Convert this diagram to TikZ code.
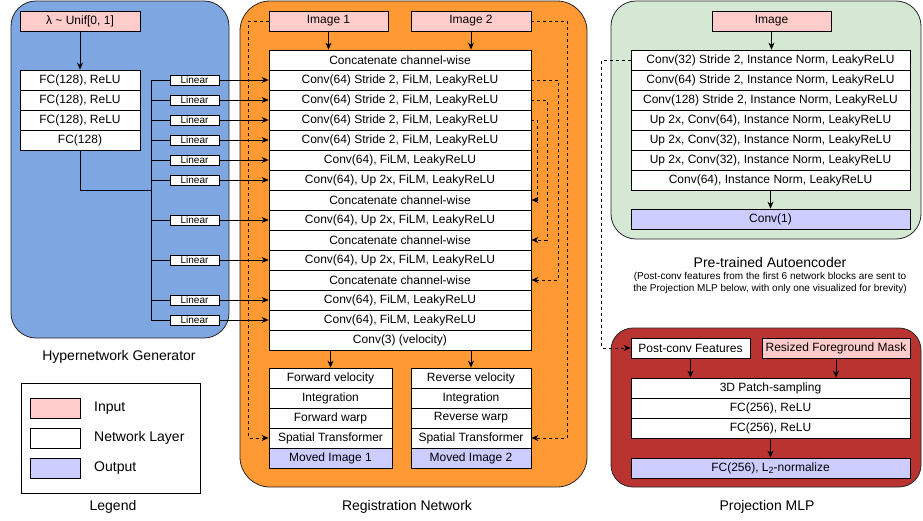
\documentclass[tikz,border=0pt]{standalone}
\usepackage{fontspec}
\setmainfont{Liberation Sans}
\usetikzlibrary{arrows.meta}
\definecolor{hblue}{HTML}{7EA6E0}
\definecolor{rorange}{HTML}{FF9933}
\definecolor{agreen}{HTML}{D5E8D4}
\definecolor{pred}{HTML}{B93330}
\definecolor{inpink}{HTML}{FFCCCC}
\definecolor{outpurple}{HTML}{CCCCFF}
\tikzset{
  panel/.style={draw=black!85, line width=0.8pt},
  layer/.style={draw=black, fill=white, line width=0.8pt, minimum height=20pt, inner sep=0pt, font=\fontsize{12}{14}\selectfont},
  inbox/.style={layer, fill=inpink},
  outbox/.style={layer, fill=outpurple},
  linbox/.style={draw=black, fill=white, line width=0.8pt, minimum width=49pt, minimum height=10pt, inner sep=0pt, font=\fontsize{10}{10}\selectfont},
  arr/.style={-{Stealth[length=7pt,width=6pt]}, line width=0.8pt},
  wire/.style={line width=0.8pt},
  dsh/.style={dash pattern=on 3pt off 3pt, line width=0.8pt},
  darr/.style={dsh, -{Stealth[length=7pt,width=6pt]}},
  title/.style={font=\fontsize{14}{16}\selectfont},
  small/.style={font=\fontsize{10}{11.5}\selectfont, align=center}
}
\begin{document}
\begin{tikzpicture}[x=1pt,y=-1pt]
\useasboundingbox (0,0) rectangle (923,520);
% panels
\draw[panel, fill=hblue, rounded corners=25pt] (11,1) rectangle (229,338);
\draw[panel, fill=rorange, rounded corners=30pt] (240,1) rectangle (587,487);
\draw[panel, fill=agreen, rounded corners=25pt] (611,1) rectangle (921,239);
\draw[panel, fill=pred, rounded corners=22pt] (611,328) rectangle (921,487);

% ---------------- Hypernetwork generator
\node[inbox, minimum width=120pt] (lam) at (80,21) {λ \textasciitilde{} Unif[0, 1]};
\node[layer, minimum width=120pt] (fc1) at (80,80) {FC(128), ReLU};
\node[layer, minimum width=120pt] (fc2) at (80,100) {FC(128), ReLU};
\node[layer, minimum width=120pt] (fc3) at (80,120) {FC(128), ReLU};
\node[layer, minimum width=120pt] (fc4) at (80,140) {FC(128)};
\draw[arr] (lam) -- (fc1);

% ---------------- Registration network main column
\node[inbox, minimum width=119pt] (img1) at (328.5,21) {Image 1};
\node[inbox, minimum width=120pt] (img2) at (471,21) {Image 2};
\node[layer, minimum width=262pt] (c1) at (400,60) {Concatenate channel-wise};
\node[layer, minimum width=262pt] (c2) at (400,80) {Conv(64) Stride 2, FiLM, LeakyReLU};
\node[layer, minimum width=262pt] (c3) at (400,100) {Conv(64) Stride 2, FiLM, LeakyReLU};
\node[layer, minimum width=262pt] (c4) at (400,120) {Conv(64) Stride 2, FiLM, LeakyReLU};
\node[layer, minimum width=262pt] (c5) at (400,140) {Conv(64) Stride 2, FiLM, LeakyReLU};
\node[layer, minimum width=262pt] (c6) at (400,160) {Conv(64), FiLM, LeakyReLU};
\node[layer, minimum width=262pt] (c7) at (400,180) {Conv(64), Up 2x, FiLM, LeakyReLU};
\node[layer, minimum width=262pt] (c8) at (400,200) {Concatenate channel-wise};
\node[layer, minimum width=262pt] (c9) at (400,220) {Conv(64), Up 2x, FiLM, LeakyReLU};
\node[layer, minimum width=262pt] (c10) at (400,240) {Concatenate channel-wise};
\node[layer, minimum width=262pt] (c11) at (400,260) {Conv(64), Up 2x, FiLM, LeakyReLU};
\node[layer, minimum width=262pt] (c12) at (400,280) {Concatenate channel-wise};
\node[layer, minimum width=262pt] (c13) at (400,300) {Conv(64), FiLM, LeakyReLU};
\node[layer, minimum width=262pt] (c14) at (400,320) {Conv(64), FiLM, LeakyReLU};
\node[layer, minimum width=262pt] (c15) at (400,340) {Conv(3) (velocity)};
\draw[arr] (img1) -- (img1 |- c1.north);
\draw[arr] (img2) -- (img2 |- c1.north);

% bottom columns
\node[layer, minimum width=123pt] (fv1) at (330.5,378) {Forward velocity};
\node[layer, minimum width=123pt] (fv2) at (330.5,398) {Integration};
\node[layer, minimum width=123pt] (fv3) at (330.5,418) {Forward warp};
\node[layer, minimum width=123pt] (fv4) at (330.5,438) {Spatial Transformer};
\node[outbox, minimum width=123pt] (fv5) at (330.5,458) {Moved Image 1};
\node[layer, minimum width=120pt] (rv1) at (471,378) {Reverse velocity};
\node[layer, minimum width=120pt] (rv2) at (471,398) {Integration};
\node[layer, minimum width=120pt] (rv3) at (471,418) {Reverse warp};
\node[layer, minimum width=120pt] (rv4) at (471,438) {Spatial Transformer};
\node[outbox, minimum width=120pt] (rv5) at (471,458) {Moved Image 2};
\draw[arr] (c15.south -| fv1.north) -- (fv1.north);
\draw[arr] (c15.south -| rv1.north) -- (rv1.north);

% skip connections
\draw[darr] (c2.east) -- ++(27,0) |- (c12.east);
\draw[darr] (c3.east) -- ++(16,0) |- (c10.east);
\draw[darr] (c4.east) -- ++(6,0) |- (c8.east);
\draw[darr] (img1.west) -- ++(-20,0) |- (fv4.west);
\draw[darr] (img2.east) -- ++(36,0) |- (rv4.east);

% ---------------- Linear layers and bus
\node[linbox] (l1) at (194.5,80) {Linear};
\node[linbox] (l2) at (194.5,100) {Linear};
\node[linbox] (l3) at (194.5,120) {Linear};
\node[linbox] (l4) at (194.5,140) {Linear};
\node[linbox] (l5) at (194.5,160) {Linear};
\node[linbox] (l6) at (194.5,180) {Linear};
\node[linbox] (l7) at (194.5,220) {Linear};
\node[linbox] (l8) at (194.5,260) {Linear};
\node[linbox] (l9) at (194.5,300) {Linear};
\node[linbox] (l10) at (194.5,320) {Linear};
\coordinate (busTop) at (151,80);
\coordinate (busBot) at (151,320);
\coordinate (busJoin) at (151,190);
\draw[wire] (fc4.south) |- (busJoin);
\draw[wire] (busTop) -- (busBot);
\foreach \i/\c in {1/2,2/3,3/4,4/5,5/6,6/7,7/9,8/11,9/13,10/14}{
  \draw[wire] (l\i.west -| busTop) -- (l\i.west);
  \draw[arr] (l\i.east) -- (c\c.west);
}

% ---------------- Autoencoder
\node[inbox, minimum width=119pt] (aimg) at (771.5,21) {Image};
\node[layer, minimum width=279pt] (a1) at (770.5,60) {Conv(32) Stride 2, Instance Norm, LeakyReLU};
\node[layer, minimum width=279pt] (a2) at (770.5,80) {Conv(64) Stride 2, Instance Norm, LeakyReLU};
\node[layer, minimum width=279pt] (a3) at (770.5,100) {Conv(128) Stride 2, Instance Norm, LeakyReLU};
\node[layer, minimum width=279pt] (a4) at (770.5,120) {Up 2x, Conv(64), Instance Norm, LeakyReLU};
\node[layer, minimum width=279pt] (a5) at (770.5,140) {Up 2x, Conv(32), Instance Norm, LeakyReLU};
\node[layer, minimum width=279pt] (a6) at (770.5,160) {Up 2x, Conv(32), Instance Norm, LeakyReLU};
\node[layer, minimum width=279pt] (a7) at (770.5,180) {Conv(64), Instance Norm, LeakyReLU};
\node[outbox, minimum width=279pt] (aout) at (770.5,219) {Conv(1)};
\draw[arr] (aimg) -- (aimg |- a1.north);
\draw[arr] (a7) -- (aout);

% ---------------- Projection MLP
\node[layer, minimum width=119pt] (pcf) at (690.5,348) {Post-conv Features};
\node[inbox, minimum width=148pt] (mask) at (836,348) {Resized Foreground Mask};
\node[layer, minimum width=279pt] (p1) at (770.5,388) {3D Patch-sampling};
\node[layer, minimum width=279pt] (p2) at (770.5,408) {FC(256), ReLU};
\node[layer, minimum width=279pt] (p3) at (770.5,428) {FC(256), ReLU};
\node[outbox, minimum width=279pt] (pout) at (770.5,468) {FC(256), L\raisebox{-0.4ex}{\fontsize{9}{9}\selectfont 2}-normalize};
\draw[arr] (pcf) -- (pcf |- p1.north);
\draw[arr] (mask) -- (mask |- p1.north);
\draw[arr] (p3) -- (pout);
\draw[darr] (a1.west) -- ++(-29,0) |- (pcf.west);

% ---------------- Legend
\draw[line width=0.8pt] (21,383) rectangle (200,493);
\node[inbox, minimum width=50pt] (legin) at (55,408) {};
\node[layer, minimum width=50pt] (legnl) at (55,438) {};
\node[outbox, minimum width=50pt] (legout) at (55,468) {};
\node[title, anchor=west, inner sep=0pt] (legtin) at (94,408) {Input};
\node[title, anchor=west, inner sep=0pt] (legtnl) at (94,438) {Network Layer};
\node[title, anchor=west, inner sep=0pt] (legtout) at (94,468) {Output};

% ---------------- Titles
\node[title] (thyp) at (119,357) {Hypernetwork Generator};
\node[title] (tleg) at (113,507) {Legend};
\node[title] (treg) at (407,507) {Registration Network};
\node[title] (tae) at (770,262) {Pre-trained Autoencoder};
\node[small] (tnote) at (770,283) {(Post-conv features from the first 6 network blocks are sent to\\the Projection MLP below, with only one visualized for brevity)};
\node[title] (tmlp) at (767,507) {Projection MLP};
\end{tikzpicture}
\end{document}
